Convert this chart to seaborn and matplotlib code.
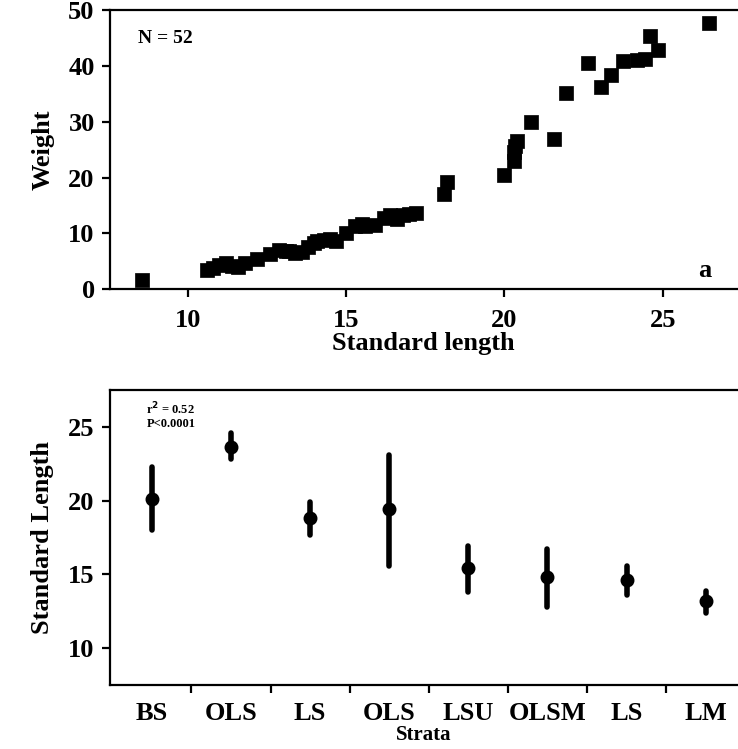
import matplotlib
matplotlib.use("Agg")
import matplotlib.pyplot as plt
import seaborn as sns
import numpy as np
import pandas as pd

# Panel a: weight vs standard length (N = 52)
comprimento = [8.55, 10.6, 10.8, 11.0, 11.2, 11.4, 11.6, 11.8, 12.2, 12.6,
               12.9, 13.1, 13.2, 13.4, 13.6, 13.8, 14.0, 14.1, 14.3, 14.5,
               14.7, 15.0, 15.3, 15.5, 15.6, 15.9, 16.2, 16.4, 16.5, 16.6,
               16.8, 17.0, 17.2, 18.1, 18.2, 20.0, 20.3, 20.3, 20.35, 20.4,
               20.85, 21.55, 21.95, 22.65, 23.05, 23.35, 23.75, 24.2, 24.45, 24.6,
               24.85, 26.45]
peso = [1.6, 3.5, 3.7, 4.4, 4.6, 4.2, 4.0, 4.6, 5.4, 6.3,
        7.0, 6.8, 6.9, 6.5, 6.7, 7.6, 8.3, 8.6, 8.8, 9.0,
        8.6, 10.0, 11.4, 11.6, 11.4, 11.5, 12.8, 13.3, 13.0, 12.6,
        13.2, 13.4, 13.6, 17.0, 19.2, 20.5, 22.9, 24.5, 25.7, 26.6,
        30.0, 26.9, 35.1, 40.5, 36.3, 38.3, 40.8, 41.0, 41.3, 45.3,
        42.8, 47.7]

# Panel b: standard length by strata (centre and range)
strata = ["BS", "OLS", "LS", "OLS", "LSU", "OLSM", "LS", "LM"]
sl_centro = [20.1, 23.6, 18.8, 19.4, 15.4, 14.8, 14.6, 13.2]
sl_min = [18.0, 22.8, 17.7, 15.6, 13.8, 12.8, 13.6, 12.4]
sl_max = [22.3, 24.6, 19.9, 23.1, 16.9, 16.7, 15.6, 13.9]

sns.set_style("ticks")
plt.rcParams["font.family"] = ["Liberation Serif", "DejaVu Serif"]
plt.rcParams["font.weight"] = "bold"
plt.rcParams["axes.labelweight"] = "bold"
for k in ("text.color", "axes.labelcolor", "axes.edgecolor",
          "xtick.color", "ytick.color"):
    plt.rcParams[k] = "black"

fig = plt.figure(figsize=(7.38, 7.49), dpi=100)
ax1 = fig.add_axes([0.149, 0.614, 0.85, 0.3725])
ax2 = fig.add_axes([0.149, 0.0854, 0.85, 0.394])

# --- painel superior
sns.scatterplot(x=comprimento, y=peso, marker="s", s=95, color="black",
                edgecolor="black", linewidth=0.5, ax=ax1)
ax1.set_xlim(7.55, 27.35)
ax1.set_ylim(0, 50)
ax1.set_xticks([10, 15, 20, 25])
ax1.set_yticks([0, 10, 20, 30, 40, 50])
ax1.set_xlabel("Standard length", fontsize=19, labelpad=0)
ax1.set_ylabel("Weight", fontsize=19, labelpad=10)
ax1.text(0.045, 0.9, "N = 52", transform=ax1.transAxes, fontsize=14,
         fontweight="bold", va="center", ha="left")
ax1.text(0.937, 0.065, "a", transform=ax1.transAxes, fontsize=19,
         fontweight="bold", va="center", ha="left")

# --- painel inferior
pos = np.arange(len(strata))
df = pd.DataFrame({
    "pos": np.repeat(pos, 3),
    "sl": np.column_stack([sl_min, sl_centro, sl_max]).ravel(),
})
sns.pointplot(data=df, x="pos", y="sl", native_scale=True, estimator="median",
              errorbar=("pi", 100), linestyle="none", marker="o", markersize=8,
              color="black", err_kws={"linewidth": 4}, ax=ax2)
ax2.set_xlim(-0.53, 7.4)
ax2.set_ylim(7.5, 27.5)
ax2.set_yticks([10, 15, 20, 25])
ax2.set_xticks(pos[:-1] + 0.5)
ax2.set_xticklabels([])
ax2.set_xticks(pos, minor=True)
ax2.set_xticklabels(strata, minor=True)
ax2.tick_params(axis="x", which="minor", length=0, labelsize=19, pad=12)
ax2.set_xlabel("Strata", fontsize=15, labelpad=0)
ax2.set_ylabel("Standard Length", fontsize=19, labelpad=10)
ax2.text(0.058, 0.935, "r$^2$ = 0.52", transform=ax2.transAxes, fontsize=9,
         fontweight="bold", va="center", ha="left")
ax2.text(0.058, 0.885, "P<0.0001", transform=ax2.transAxes, fontsize=9,
         fontweight="bold", va="center", ha="left")

for ax in (ax1, ax2):
    sns.despine(ax=ax, right=True, top=False)
    for s in ("left", "bottom", "top"):
        ax.spines[s].set_linewidth(1.6)
    ax.tick_params(axis="both", which="major", direction="out", length=6,
                   width=1.6, labelsize=19)
    ax.tick_params(axis="y", pad=5)
    ax.tick_params(axis="x", pad=8)
    for lab in ax.get_xticklabels(which="both") + ax.get_yticklabels():
        lab.set_fontweight("bold")

fig.savefig("out.png", dpi=100)
